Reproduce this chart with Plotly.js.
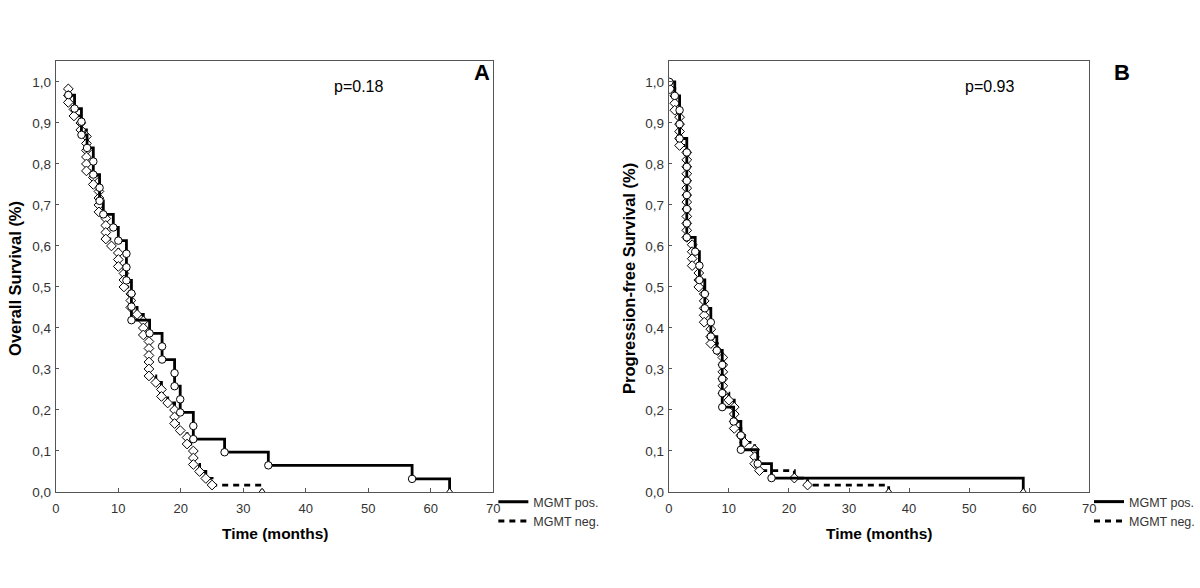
<!DOCTYPE html>
<html>
<head>
<meta charset="utf-8">
<script src="https://cdn.plot.ly/plotly-3.0.1.min.js"></script>
<style>html,body{margin:0;padding:0;background:#fff;}#chart{width:1200px;height:588px;}</style>
</head>
<body>
<div id="chart"></div>
<script>
// ---- Data ----
const xTickVals = [0, 10, 20, 30, 40, 50, 60, 70];
const xTickText = ["0", "10", "20", "30", "40", "50", "60", "70"];
const yTickVals = [0, 0.1, 0.2, 0.3, 0.4, 0.5, 0.6, 0.7, 0.8, 0.9, 1.0];

const seriesNames = ["MGMT pos.", "MGMT neg."];

// Panel A: Overall survival
const posA_t = [2.0, 3.0, 4.1, 4.1, 5.0, 6.0, 6.0, 7.0, 7.0, 7.6, 9.2, 10.0, 11.3, 11.3, 11.3, 12.1, 12.1, 12.1, 15.0, 17.0, 17.0, 19.0, 19.0, 19.9, 19.9, 22.0, 22.0, 27.0, 34.0, 57.0, 63.0];
const posA_s = [0.968, 0.935, 0.903, 0.871, 0.839, 0.806, 0.774, 0.742, 0.710, 0.677, 0.645, 0.613, 0.581, 0.548, 0.516, 0.484, 0.452, 0.419, 0.387, 0.355, 0.323, 0.290, 0.258, 0.226, 0.194, 0.161, 0.129, 0.097, 0.065, 0.032, 0];

const negA_t = [2.0, 2.0, 2.0, 2.9, 2.9, 4.0, 4.0, 4.9, 4.9, 4.9, 4.9, 4.9, 4.9, 6.0, 6.0, 6.9, 6.9, 6.9, 6.9, 8.0, 8.0, 8.0, 8.0, 8.9, 10.0, 10.0, 10.0, 10.9, 10.9, 10.9, 12.0, 12.0, 12.0, 13.0, 14.0, 14.0, 14.0, 14.9, 14.9, 14.9, 14.9, 14.9, 14.9, 16.0, 16.9, 16.9, 17.9, 19.0, 19.0, 19.0, 19.9, 21.0, 21.0, 22.0, 22.0, 22.0, 23.0, 24.0, 25.0, 33.0];
const negA_s = [0.983, 0.967, 0.950, 0.933, 0.917, 0.900, 0.883, 0.867, 0.850, 0.833, 0.817, 0.800, 0.783, 0.767, 0.750, 0.733, 0.717, 0.700, 0.683, 0.667, 0.650, 0.633, 0.617, 0.600, 0.583, 0.567, 0.550, 0.533, 0.517, 0.500, 0.483, 0.467, 0.450, 0.433, 0.417, 0.400, 0.383, 0.367, 0.350, 0.333, 0.317, 0.300, 0.283, 0.267, 0.250, 0.233, 0.217, 0.200, 0.183, 0.167, 0.150, 0.133, 0.117, 0.100, 0.083, 0.067, 0.050, 0.033, 0.017, 0];

// Panel B: Progression-free survival
const posB_t = [0.1, 1.0, 1.8, 1.8, 1.8, 3.0, 3.0, 3.0, 3.0, 3.0, 3.0, 3.0, 4.4, 5.1, 5.1, 6.0, 6.0, 7.0, 7.0, 8.0, 8.9, 8.9, 8.9, 8.9, 10.8, 12.0, 12.0, 14.8, 17.1, 59.0];
const posB_s = [1.0, 0.966, 0.931, 0.897, 0.862, 0.828, 0.793, 0.759, 0.724, 0.690, 0.655, 0.621, 0.586, 0.552, 0.517, 0.483, 0.448, 0.414, 0.379, 0.345, 0.310, 0.276, 0.241, 0.207, 0.172, 0.138, 0.103, 0.069, 0.034, 0];

const negB_t = [0.2, 1.0, 1.0, 1.0, 1.8, 1.8, 1.8, 1.8, 1.8, 3.0, 3.0, 3.0, 3.0, 3.0, 3.0, 3.0, 3.0, 3.0, 3.0, 3.0, 3.0, 3.0, 3.9, 3.9, 3.9, 3.9, 5.0, 5.0, 5.0, 5.9, 5.9, 5.9, 5.9, 5.9, 7.0, 7.0, 7.0, 8.1, 9.0, 9.0, 9.0, 9.0, 9.0, 9.0, 10.0, 10.9, 10.9, 10.9, 10.9, 12.0, 12.6, 14.3, 14.3, 14.3, 15.1, 20.9, 23.1, 36.6];
const negB_s = [0.983, 0.966, 0.948, 0.931, 0.914, 0.897, 0.879, 0.862, 0.845, 0.828, 0.810, 0.793, 0.776, 0.759, 0.741, 0.724, 0.707, 0.690, 0.672, 0.655, 0.638, 0.621, 0.603, 0.586, 0.569, 0.552, 0.534, 0.517, 0.500, 0.483, 0.466, 0.448, 0.431, 0.414, 0.397, 0.379, 0.362, 0.345, 0.328, 0.310, 0.293, 0.276, 0.259, 0.241, 0.224, 0.207, 0.190, 0.172, 0.155, 0.138, 0.121, 0.103, 0.086, 0.069, 0.052, 0.034, 0.017, 0];

// ---- Styling / traces ----
const FONT = "Liberation Sans, Arial, sans-serif";
function symbols(arr, base) {
  return arr.map((v, i) => (i === arr.length - 1 ? "triangle-up" : base));
}
function kmTrace(t, s, dashed, base, xa, ya) {
  return {
    x: t, y: s, xaxis: xa, yaxis: ya,
    type: "scatter", mode: "lines+markers",
    line: { shape: "hv", color: "#000", width: 2.8, dash: dashed ? "6px,5px" : "solid" },
    marker: { symbol: symbols(t, base), size: 7.5, color: "#fff", line: { color: "#000", width: 1 } },
    showlegend: false, hoverinfo: "x+y"
  };
}
function legendTrace(name, dashed, leg, xa, ya) {
  return {
    x: [null], y: [null], xaxis: xa, yaxis: ya, type: "scatter", mode: "lines",
    name: name, legend: leg, showlegend: true,
    line: { color: "#000", width: 3, dash: dashed ? "6px,5px" : "solid" }
  };
}

const data = [
  kmTrace(negA_t, negA_s, true, "diamond", "x", "y"),
  kmTrace(posA_t, posA_s, false, "circle", "x", "y"),
  kmTrace(negB_t, negB_s, true, "diamond", "x2", "y2"),
  kmTrace(posB_t, posB_s, false, "circle", "x2", "y2"),
  legendTrace(seriesNames[0], false, "legend", "x", "y"),
  legendTrace(seriesNames[1], true, "legend", "x", "y"),
  legendTrace(seriesNames[0], false, "legend2", "x2", "y2"),
  legendTrace(seriesNames[1], true, "legend2", "x2", "y2")
];

const W = 1200, H = 588;
const yDom = [(H - 492) / H, (H - 61) / H];
function xAxis(dom) {
  return {
    domain: dom, range: [0, 70], tickvals: xTickVals, ticktext: xTickText,
    ticks: "inside", ticklen: 4, tickcolor: "#555", showline: true, mirror: true,
    linecolor: "#555", linewidth: 1, showgrid: false, zeroline: false,
    tickfont: { family: FONT, size: 13, color: "#333" }, ticklabelstandoff: 4, fixedrange: true
  };
}
function yAxis(dom, anchor) {
  return {
    domain: dom, range: [0, 1.051], tickvals: yTickVals, tickformat: ".1f",
    ticks: "inside", ticklen: 3, tickcolor: "#555", showline: true, mirror: true,
    linecolor: "#555", linewidth: 1, showgrid: false, zeroline: false, anchor: anchor,
    tickfont: { family: FONT, size: 13.5, color: "#333" }, ticklabelstandoff: 1, fixedrange: true
  };
}
function legendBox(xpx) {
  return {
    x: xpx / W, xanchor: "left", y: 1 - 487 / H, yanchor: "top",
    font: { family: FONT, size: 12.5, color: "#333" }, bgcolor: "rgba(0,0,0,0)",
    borderwidth: 0, tracegroupgap: 0, itemwidth: 30, orientation: "v"
  };
}
function ann(text, xpx, ypx, size, extra) {
  return Object.assign({
    text: text, xref: "paper", yref: "paper", x: xpx / W, y: 1 - ypx / H,
    xanchor: "center", yanchor: "middle", showarrow: false,
    font: { family: FONT, size: size, color: "#000" }
  }, extra || {});
}

const layout = {
  width: W, height: H, margin: { l: 0, r: 0, t: 0, b: 0 },
  paper_bgcolor: "#fff", plot_bgcolor: "#fff", separators: ",.",
  font: { family: FONT },
  xaxis: xAxis([56 / W, 495 / W]),
  yaxis: yAxis(yDom, "x"),
  xaxis2: xAxis([671 / W, 1093 / W]),
  yaxis2: yAxis(yDom, "x2"),
  legend: legendBox(495),
  legend2: legendBox(1093),
  annotations: [
    ann("p=0.18", 360, 86, 16),
    ann("<b>A</b>", 484, 72, 22),
    ann("p=0.93", 993, 86, 16),
    ann("<b>B</b>", 1126, 72, 22),
    ann("<b>Overall Survival (%)</b>", 15, 278, 16.5, { textangle: -90 }),
    ann("<b>Progression-free Survival (%)</b>", 631, 278, 16.5, { textangle: -90 }),
    ann("<b>Time (months)</b>", 276, 533, 15.5),
    ann("<b>Time (months)</b>", 882, 533, 15.5)
  ]
};

Plotly.newPlot("chart", data, layout, { displayModeBar: false, staticPlot: true });
</script>
</body>
</html>
